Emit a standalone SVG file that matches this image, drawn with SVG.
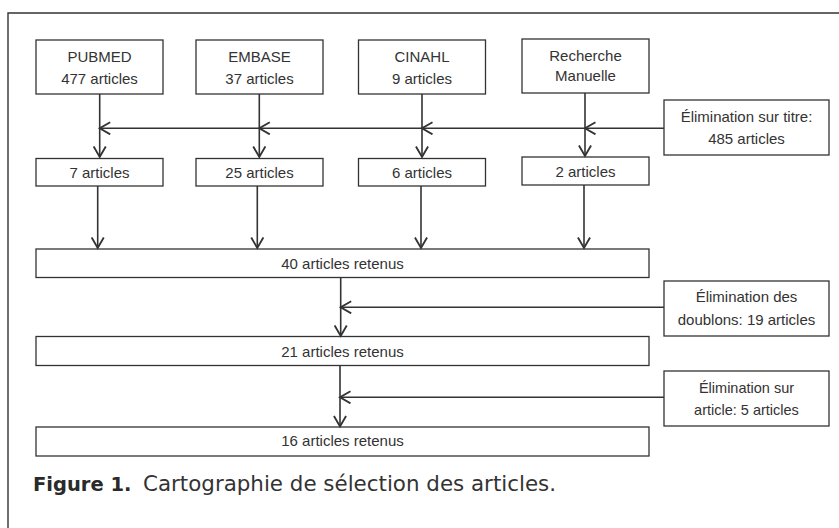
<svg xmlns="http://www.w3.org/2000/svg" width="839" height="528" viewBox="0 0 839 528">
<style>
.box{fill:#fff;stroke:#333;stroke-width:1.3}
.t{font-family:"Liberation Sans",Arial,sans-serif;font-size:15px;fill:#333;text-anchor:middle}
.ts{font-family:"Liberation Sans",Arial,sans-serif;font-size:14.5px;fill:#333;text-anchor:middle}
.c{fill:none;stroke:#333;stroke-width:1.6}
.frame{fill:none;stroke:#333;stroke-width:1.4}
.cap{font-family:"DejaVu Sans",sans-serif;fill:#2a2a2a}
</style>
<defs>
<marker id="ah" markerUnits="userSpaceOnUse" markerWidth="14" markerHeight="14" viewBox="0 0 12 12" refX="10" refY="6" orient="auto">
<path d="M1,0.8 L10,6 L1,11.2" fill="none" stroke="#333" stroke-width="1.6"/>
</marker>
</defs>
<path class="frame" d="M8,528 V13 H839"/>

<g id="pubmed"><rect class="box" x="36" y="40" width="127" height="54"/><text class="t" x="99.5" y="62">PUBMED</text><text class="t" x="99.5" y="83.5">477 articles</text></g>
<g id="embase"><rect class="box" x="196" y="40" width="127" height="54"/><text class="t" x="259.5" y="62">EMBASE</text><text class="t" x="259.5" y="83.5">37 articles</text></g>
<g id="cinahl"><rect class="box" x="358.5" y="40" width="127" height="54"/><text class="t" x="422" y="62">CINAHL</text><text class="t" x="422" y="83.5">9 articles</text></g>
<g id="recherche"><rect class="box" x="522" y="39" width="127" height="54"/><text class="t" x="585.5" y="60.5">Recherche</text><text class="t" x="585.5" y="80.5">Manuelle</text></g>
<g id="elim-titre"><rect class="box" x="664" y="100" width="165" height="55"/><text class="t" x="746.5" y="121.5">Élimination sur titre:</text><text class="t" x="746.5" y="144">485 articles</text></g>

<g id="r2-pubmed"><rect class="box" x="36" y="158.5" width="127" height="27.5"/><text class="t" x="99.5" y="178">7 articles</text></g>
<g id="r2-embase"><rect class="box" x="196" y="158.5" width="127" height="27.5"/><text class="t" x="259.5" y="178">25 articles</text></g>
<g id="r2-cinahl"><rect class="box" x="358.5" y="158.5" width="127" height="27.5"/><text class="t" x="422" y="178">6 articles</text></g>
<g id="r2-recherche"><rect class="box" x="522" y="157" width="127" height="28"/><text class="t" x="585.5" y="177">2 articles</text></g>

<g id="retenus40"><rect class="box" x="36" y="249" width="613" height="28.5"/><text class="t" x="342.5" y="268.5">40 articles retenus</text></g>
<g id="elim-doublons"><rect class="box" x="664" y="281" width="165" height="55"/><text class="t" x="746.5" y="302">Élimination des</text><text class="t" x="746.5" y="325">doublons: 19 articles</text></g>
<g id="retenus21"><rect class="box" x="36" y="336.5" width="613" height="29"/><text class="t" x="342.5" y="356.5">21 articles retenus</text></g>
<g id="elim-article"><rect class="box" x="664" y="371" width="165" height="55"/><text class="ts" x="746.5" y="392.5">Élimination sur</text><text class="ts" x="746.5" y="415">article: 5 articles</text></g>
<g id="retenus16"><rect class="box" x="36" y="427" width="613" height="29"/><text class="t" x="342.5" y="446">16 articles retenus</text></g>

<g id="connectors">
<line class="c" x1="99.7" y1="94" x2="99.7" y2="157" marker-end="url(#ah)"/>
<line class="c" x1="259.3" y1="94" x2="259.3" y2="157" marker-end="url(#ah)"/>
<line class="c" x1="422" y1="94" x2="422" y2="157" marker-end="url(#ah)"/>
<line class="c" x1="585" y1="93" x2="585" y2="156" marker-end="url(#ah)"/>
<line class="c" x1="664" y1="128.3" x2="585" y2="128.3" marker-end="url(#ah)"/>
<line class="c" x1="585" y1="128.3" x2="422" y2="128.3" marker-end="url(#ah)"/>
<line class="c" x1="422" y1="128.3" x2="259.3" y2="128.3" marker-end="url(#ah)"/>
<line class="c" x1="259.3" y1="128.3" x2="99.7" y2="128.3" marker-end="url(#ah)"/>
<line class="c" x1="97.7" y1="186" x2="97.7" y2="248" marker-end="url(#ah)"/>
<line class="c" x1="257.3" y1="186" x2="257.3" y2="248" marker-end="url(#ah)"/>
<line class="c" x1="421" y1="186" x2="421" y2="248" marker-end="url(#ah)"/>
<line class="c" x1="584" y1="185" x2="584" y2="248" marker-end="url(#ah)"/>
<line class="c" x1="340.7" y1="277.5" x2="340.7" y2="336" marker-end="url(#ah)"/>
<line class="c" x1="664" y1="307.3" x2="340.7" y2="307.3" marker-end="url(#ah)"/>
<line class="c" x1="340" y1="365.5" x2="340" y2="426.5" marker-end="url(#ah)"/>
<line class="c" x1="664" y1="397.3" x2="340" y2="397.3" marker-end="url(#ah)"/>
</g>

<text class="cap" x="33" y="491"><tspan font-weight="bold" font-size="19.5px">Figure 1.</tspan><tspan x="143" font-size="21.4px" fill="#333">Cartographie de sélection des articles.</tspan></text>
</svg>
